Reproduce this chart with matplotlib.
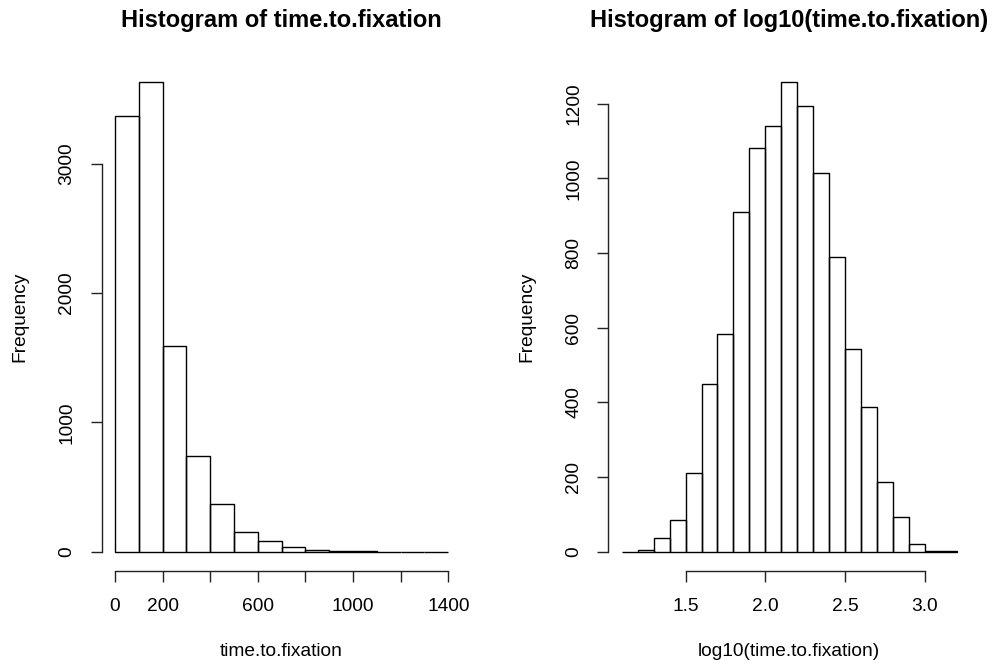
import matplotlib
matplotlib.use("Agg")
import matplotlib.pyplot as plt
import numpy as np

plt.rcParams['font.family'] = ['Liberation Sans', 'DejaVu Sans']

# histogram of raw values: bins of 100 from 0 to 1400
raw_edges = np.arange(0, 1500, 100)
raw_counts = [3372, 3632, 1591, 740, 371, 155, 83, 39, 11, 4, 2, 1, 0, 1]
raw_ticks = [0, 200, 400, 600, 800, 1000, 1200, 1400]
raw_ticklabels = ['0', '200', '', '600', '', '1000', '', '1400']
raw_yticks = [0, 1000, 2000, 3000]

# histogram of log10 values: bins of 0.1 from 1.1 to 3.2
log_edges = np.round(np.arange(1.1, 3.25, 0.1), 1)
log_counts = [0, 4, 37, 85, 210, 448, 584, 909, 1081, 1140, 1258,
              1193, 1014, 788, 544, 388, 188, 92, 20, 3, 1]
log_ticks = [1.5, 2.0, 2.5, 3.0]
log_ticklabels = ['1.5', '2.0', '2.5', '3.0']
log_yticks = [0, 200, 400, 600, 800, 1000, 1200]

W, H = 992, 664
fig = plt.figure(figsize=(W / 100, H / 100), dpi=100)

# plot regions in pixels (left, top, right, bottom)
regions = [(101.7, 63.2, 461.6, 570.5), (608.4, 63.2, 970.0, 570.5)]
ax_top_px = 63.2
ax_h_px = 570.5 - 63.2


def r_hist(ax, edges, counts, xticks, xlabels, yticks, title, xlab):
    widths = np.diff(edges)
    ax.bar(edges[:-1], counts, width=widths, align='edge', fill=False,
           edgecolor='black', linewidth=1.0)
    # R style: 4% padding around the data range
    xr = edges[-1] - edges[0]
    yr = max(counts)
    ax.set_xlim(edges[0] - 0.04 * xr, edges[-1] + 0.04 * xr)
    ax.set_ylim(-0.04 * yr, yr * 1.04)

    for s in ['top', 'right']:
        ax.spines[s].set_visible(False)
    ax.spines['left'].set_bounds(yticks[0], yticks[-1])
    ax.spines['bottom'].set_bounds(xticks[0], xticks[-1])
    for s in ['left', 'bottom']:
        ax.spines[s].set_linewidth(1.0)
        ax.spines[s].set_color('#222222')

    ax.set_xticks(xticks)
    ax.set_xticklabels(xlabels)
    ax.set_yticks(yticks)
    ax.set_yticklabels([str(v) for v in yticks], rotation=90, va='center')
    ax.tick_params(length=8, width=1.0, color='#222222', labelsize=13.8)
    ax.tick_params(axis='x', pad=12)
    ax.tick_params(axis='y', pad=11)

    # title baseline sits ~26.7 px from the top of the image
    ax.set_title(title, fontsize=17, fontweight='bold', pad=0,
                 y=(ax_top_px - 26.7) / ax_h_px + 1.0, va='baseline')

    ax.set_xlabel(xlab, fontsize=13.8, va='baseline')
    ax.xaxis.set_label_coords(0.5, -(656 - 570.5) / ax_h_px)
    ax.set_ylabel('Frequency', fontsize=13.8, va='center')


axes = []
for (l, t, r, b) in regions:
    ax = fig.add_axes([l / W, 1 - b / H, (r - l) / W, (b - t) / H])
    axes.append(ax)

r_hist(axes[0], raw_edges, raw_counts, raw_ticks, raw_ticklabels, raw_yticks,
       'Histogram of time.to.fixation', 'time.to.fixation')
axes[0].yaxis.set_label_coords((20 - 101.7) / (461.6 - 101.7), 0.5)

r_hist(axes[1], log_edges, log_counts, log_ticks, log_ticklabels, log_yticks,
       'Histogram of log10(time.to.fixation)', 'log10(time.to.fixation)')
axes[1].yaxis.set_label_coords((527 - 608.4) / (970.0 - 608.4), 0.5)

fig.savefig('out.png', dpi=100)
